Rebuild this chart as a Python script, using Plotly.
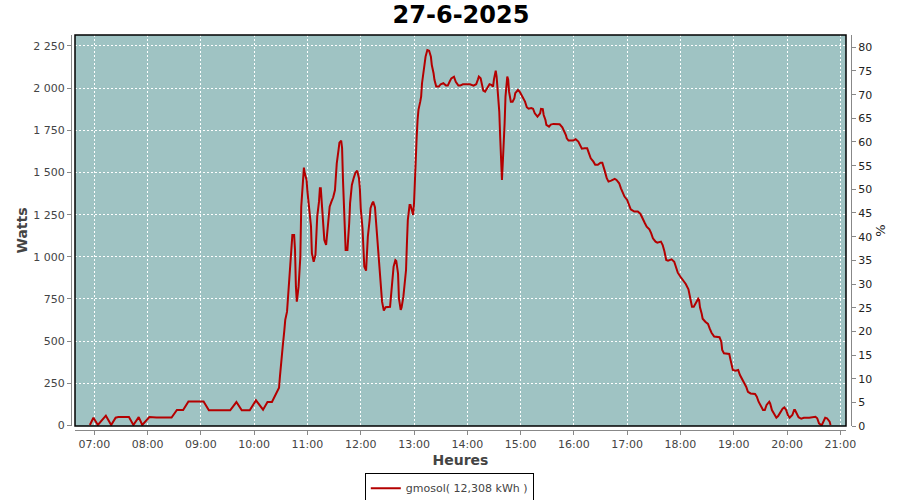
import plotly.graph_objects as go

DAY = "2025-06-27"
TITLE = "27-6-2025"
SERIES_NAME = "gmosol( 12,308 kWh )"

times = [
    "06:55", "06:59", "07:04", "07:13", "07:19", "07:24", "07:27", "07:39", "07:44", "07:50", "07:54",
    "08:02", "08:10", "08:27", "08:33", "08:40", "08:46",
    "09:03", "09:09", "09:33", "09:40", "09:46", "09:55",
    "10:02", "10:10", "10:15", "10:20", "10:26", "10:28", "10:29", "10:30", "10:32", "10:34", "10:35",
    "10:37", "10:38", "10:39", "10:41", "10:43", "10:45", "10:46", "10:47", "10:48", "10:50", "10:52",
    "10:53", "10:55", "10:56", "10:57", "10:59",
    "11:00", "11:01", "11:02", "11:04", "11:05", "11:07", "11:09", "11:10", "11:11", "11:13", "11:14",
    "11:15", "11:16", "11:17", "11:18", "11:19", "11:21", "11:22", "11:24", "11:25", "11:27", "11:29",
    "11:31", "11:32", "11:33", "11:35", "11:36", "11:38", "11:39", "11:40", "11:41", "11:42", "11:43",
    "11:45", "11:46", "11:47", "11:48", "11:50", "11:52", "11:54", "11:56", "11:58", "11:59",
    "12:00", "12:02", "12:03", "12:04", "12:06", "12:07", "12:08", "12:10", "12:11", "12:13", "12:14",
    "12:16", "12:17", "12:18", "12:20", "12:21", "12:23", "12:24", "12:26", "12:28", "12:33", "12:34",
    "12:35", "12:37", "12:39", "12:40", "12:42", "12:43", "12:45", "12:46", "12:48", "12:49", "12:51",
    "12:52", "12:53", "12:55", "12:56", "12:58", "12:59",
    "13:00", "13:01", "13:02", "13:03", "13:04", "13:05", "13:07", "13:08", "13:09", "13:10", "13:12",
    "13:13", "13:15", "13:17", "13:19", "13:20", "13:22", "13:23", "13:25", "13:28", "13:30", "13:33",
    "13:36", "13:38", "13:40", "13:42", "13:45", "13:47", "13:50", "13:52", "13:55",
    "14:03", "14:07", "14:10", "14:12", "14:13", "14:15", "14:17", "14:18", "14:20", "14:22", "14:25",
    "14:27", "14:29", "14:30", "14:31", "14:32", "14:33", "14:34", "14:36", "14:37", "14:38", "14:39",
    "14:40", "14:41", "14:42", "14:43", "14:44", "14:45", "14:46", "14:47", "14:49", "14:51", "14:53",
    "14:54", "14:57", "14:59",
    "15:01", "15:03", "15:05", "15:07", "15:09", "15:12", "15:14", "15:16", "15:19", "15:22", "15:23",
    "15:25", "15:26", "15:28", "15:29", "15:32", "15:34", "15:37", "15:41", "15:44", "15:47", "15:49",
    "15:51", "15:52", "15:54", "15:59",
    "16:02", "16:05", "16:07", "16:09", "16:12", "16:15", "16:17", "16:19", "16:22", "16:24", "16:27",
    "16:30", "16:32", "16:33", "16:35", "16:37", "16:39", "16:42", "16:46", "16:48", "16:51", "16:53",
    "16:55", "16:57",
    "17:00", "17:02", "17:04", "17:08", "17:12", "17:15", "17:17", "17:20", "17:22", "17:25", "17:27",
    "17:29", "17:32", "17:34", "17:38", "17:40", "17:42", "17:44", "17:46", "17:50", "17:53", "17:55",
    "17:57",
    "18:00", "18:03", "18:06", "18:09", "18:11", "18:13", "18:15", "18:18", "18:20", "18:21", "18:22",
    "18:24", "18:25", "18:28", "18:31", "18:33", "18:35", "18:38", "18:41", "18:44", "18:46", "18:47",
    "18:49", "18:52", "18:55", "18:56", "18:58", "18:59",
    "19:02", "19:05", "19:07", "19:10", "19:12", "19:14", "19:16", "19:19", "19:24", "19:26", "19:28",
    "19:31", "19:33", "19:35", "19:37", "19:40", "19:41", "19:43", "19:46", "19:48", "19:50", "19:53",
    "19:55", "19:57", "19:59",
    "20:01", "20:03", "20:06", "20:08", "20:09", "20:11", "20:13", "20:16", "20:19", "20:25", "20:32",
    "20:34", "20:36", "20:39", "20:41", "20:43", "20:45", "20:48", "20:49",
]

watts = [
    3, 46, 3, 58, 3, 46, 50, 50, 3, 50, 3,
    50, 47, 47, 92, 92, 143,
    143, 90, 90, 139, 90, 90,
    149, 94, 139, 139, 199, 224, 290, 359, 460, 566, 626,
    675, 744, 813, 960, 1130, 1130, 1041, 823, 734, 823, 1001,
    1297, 1426, 1529, 1495, 1456,
    1386, 1327, 1248, 1179, 1021, 971, 1011, 1130, 1238, 1327, 1406,
    1406, 1337, 1278, 1189, 1100, 1070, 1130, 1228, 1297, 1327, 1353,
    1396, 1495, 1554, 1634, 1677, 1689, 1644, 1456, 1318, 1179, 1041,
    1041, 1110, 1199, 1318, 1426, 1466, 1499, 1511, 1466, 1406,
    1288, 1169, 1060, 942, 918, 1011, 1120, 1218, 1288, 1318, 1327,
    1294, 1218, 1149, 1021, 922, 813, 734, 681, 701, 704, 754,
    843, 942, 981, 976, 900, 754, 685, 700, 764, 823, 922,
    1080, 1218, 1307, 1307, 1268, 1248,
    1318, 1475, 1594, 1712, 1811, 1871, 1920, 1950, 2029, 2078, 2138,
    2187, 2226, 2222, 2187, 2138, 2088, 2049, 2009, 2009, 2023, 2029,
    2015, 2015, 2038, 2058, 2068, 2038, 2015, 2015, 2023,
    2023, 2015, 2023, 2052, 2068, 2058, 2019, 1985, 1979, 1999, 2023,
    2019, 2009, 2052, 2092, 2104, 2068, 1989, 1860, 1712, 1584, 1456,
    1564, 1653, 1792, 1950, 2029, 2068, 2052, 1979, 1920, 1920, 1940,
    1970, 1989, 1979,
    1959, 1940, 1920, 1887, 1878, 1882, 1878, 1851, 1831, 1851, 1877,
    1875, 1841, 1811, 1782, 1772, 1784, 1788, 1786, 1786, 1768, 1748,
    1722, 1703, 1689, 1689,
    1697, 1683, 1657, 1641, 1643, 1643, 1613, 1584, 1564, 1546, 1546,
    1558, 1558, 1535, 1505, 1466, 1446, 1452, 1462, 1456, 1436, 1406,
    1377, 1357,
    1337, 1307, 1282, 1268, 1268, 1254, 1228, 1199, 1179, 1163, 1140,
    1110, 1090, 1084, 1090, 1070, 1031, 981, 977, 985, 971, 932,
    906,
    882, 859, 839, 808, 760, 704, 704, 734, 752, 744, 701,
    661, 633, 615, 602, 574, 550, 527, 523, 523, 497, 448,
    428, 424, 424, 398, 349, 329,
    325, 329, 299, 269, 250, 230, 200, 190, 187, 171, 141,
    111, 92, 92, 122, 141, 131, 92, 62, 46, 56, 82,
    100, 107, 92,
    62, 46, 62, 92, 92, 72, 49, 40, 46, 46, 52,
    43, 13, 0, 23, 46, 43, 23, 3,
]

watt_ticks = [0, 250, 500, 750, 1000, 1250, 1500, 1750, 2000, 2250]
pct_ticks = list(range(0, 85, 5))
hour_ticks = ["07:00", "08:00", "09:00", "10:00", "11:00", "12:00", "13:00",
              "14:00", "15:00", "16:00", "17:00", "18:00", "19:00", "20:00", "21:00"]

x_vals = [f"{DAY} {t}" for t in times]

FONT = "DejaVu Sans"
TICK_FONT = dict(family=FONT, size=11, color="#444444")
AXIS_GRAY = "#888888"

fig = go.Figure()
fig.add_trace(go.Scatter(
    x=x_vals, y=watts, mode="lines", name=SERIES_NAME,
    line=dict(color="#B40000", width=2),
    yaxis="y",
))
fig.add_trace(go.Scatter(
    x=x_vals[:1], y=[None], mode="lines", showlegend=False,
    yaxis="y2", hoverinfo="skip",
))

fig.update_layout(
    width=900, height=500,
    paper_bgcolor="white",
    plot_bgcolor="#9FC3C3",
    separators=", ",
    margin=dict(l=71, r=49, t=35, b=70, autoexpand=False),
    title=dict(text=TITLE, x=0.5, xref="paper", xanchor="center",
               y=0.97, yanchor="middle",
               font=dict(family=FONT, size=24, color="black", weight="bold")),
    xaxis=dict(
        type="date",
        domain=[0.00513, 0.99359],
        anchor="free", position=0,
        automargin=False,
        range=[f"{DAY} 06:38:15", f"{DAY} 21:06:25"],
        tickvals=[f"{DAY} {h}" for h in hour_ticks],
        ticktext=hour_ticks,
        showgrid=True, gridcolor="white", griddash="2px,2px", gridwidth=1,
        showline=True, linecolor=AXIS_GRAY, linewidth=1,
        ticks="outside", ticklen=4, tickcolor=AXIS_GRAY,
        tickfont=TICK_FONT,
        zeroline=False,
        title=dict(text="<b>Heures</b>", font=dict(family=FONT, size=14, color="#444444"), standoff=4),
    ),
    yaxis=dict(
        domain=[0.0101, 1],
        anchor="free", position=0,
        automargin=False,
        range=[-3, 2315],
        tickvals=watt_ticks,
        tickformat=",d",
        showgrid=True, gridcolor="white", griddash="2px,2px", gridwidth=1,
        showline=True, linecolor=AXIS_GRAY, linewidth=1,
        ticks="outside", ticklen=4, tickcolor=AXIS_GRAY,
        tickfont=TICK_FONT,
        zeroline=False,
        title=dict(text="<b>Watts</b>", font=dict(family=FONT, size=14, color="#444444"), standoff=1),
    ),
    yaxis2=dict(
        overlaying="y",
        side="right",
        anchor="free", position=1,
        automargin=False,
        range=[0, 82.6],
        tickvals=pct_ticks,
        showgrid=False,
        showline=True, linecolor=AXIS_GRAY, linewidth=1,
        ticks="outside", ticklen=4, tickcolor=AXIS_GRAY,
        tickfont=dict(family=FONT, size=11, color="#222222"),
        zeroline=False,
        title=dict(text="%", font=dict(family=FONT, size=13, color="#222222"), standoff=4),
    ),
    showlegend=True,
    legend=dict(
        orientation="h",
        x=0.485, xanchor="center",
        y=-0.108, yanchor="top",
        bordercolor="black", borderwidth=1,
        bgcolor="white",
        font=dict(family=FONT, size=11, color="#444444"),
        itemwidth=30,
    ),
    shapes=[dict(type="rect", xref="x domain", yref="y domain",
                 x0=0, x1=1, y0=0, y1=1,
                 line=dict(color="black", width=1.5), layer="above")],
)

fig.write_html("out.html", post_script="document.body.style.margin='0';",
               config={"displayModeBar": False})
